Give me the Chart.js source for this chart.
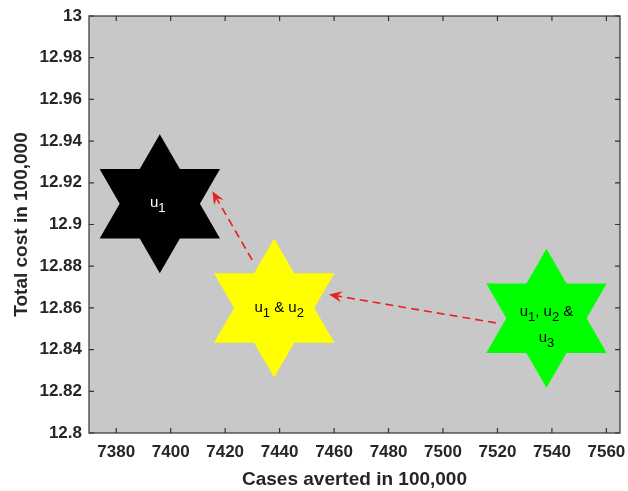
<!DOCTYPE html>
<html>
<head>
<meta charset="utf-8">
<script src="https://cdn.jsdelivr.net/npm/chart.js@4/dist/chart.umd.min.js"></script>
<style>
  html, body { margin: 0; padding: 0; background: #ffffff; }
  #wrap { width: 628px; height: 491px; }
</style>
</head>
<body>
<div id="wrap"><canvas id="chart" width="628" height="491"></canvas></div>
<script>
// Strategy combinations: cases averted vs. total cost (both in 100,000)
const casesAverted = [7396, 7438, 7538];
const totalCost = [12.91, 12.86, 12.855];
const strategyLabels = ['u_1', 'u_1 & u_2', 'u_1, u_2 &\nu_3'];
const starColors = ['#000000', '#ffff00', '#00ff00'];
const labelColors = ['#ffffff', '#000000', '#000000'];

// Dashed arrows pointing from each combination to the one before it
const arrowFromX = [7429.9, 7519.4];
const arrowFromY = [12.883, 12.8528];
const arrowToX = [7415.3, 7458.1];
const arrowToY = [12.916, 12.8664];

const xTickValues = [7380, 7400, 7420, 7440, 7460, 7480, 7500, 7520, 7540, 7560];
const yTickValues = [12.8, 12.82, 12.84, 12.86, 12.88, 12.9, 12.92, 12.94, 12.96, 12.98, 13];

const FONT = '"Liberation Sans", Arial, Helvetica, sans-serif';
const AXIS_COLOR = '#333333';
const TEXT_COLOR = '#262626';

// Each hexagram is an upward and a downward triangle at the same point
const starPoints = [];
casesAverted.forEach((x, i) => {
  starPoints.push({ x: x, y: totalCost[i] });
  starPoints.push({ x: x, y: totalCost[i] });
});

const plotBackground = {
  id: 'plotBackground',
  beforeDatasetsDraw(chart) {
    const { ctx, chartArea: a } = chart;
    ctx.save();
    ctx.fillStyle = '#c8c8c8';
    ctx.fillRect(a.left, a.top, a.right - a.left, a.bottom - a.top);
    ctx.restore();
  }
};

const axesBox = {
  id: 'axesBox',
  afterDatasetsDraw(chart) {
    const { ctx, chartArea: a, scales } = chart;
    const len = 5;
    ctx.save();
    ctx.strokeStyle = AXIS_COLOR;
    ctx.lineWidth = 1.2;
    ctx.beginPath();
    xTickValues.forEach(v => {
      const px = scales.x.getPixelForValue(v);
      ctx.moveTo(px, a.bottom); ctx.lineTo(px, a.bottom - len);
      ctx.moveTo(px, a.top); ctx.lineTo(px, a.top + len);
    });
    yTickValues.forEach(v => {
      const py = scales.y.getPixelForValue(v);
      ctx.moveTo(a.left, py); ctx.lineTo(a.left + len, py);
      ctx.moveTo(a.right, py); ctx.lineTo(a.right - len, py);
    });
    ctx.stroke();
    ctx.strokeRect(a.left, a.top, a.right - a.left, a.bottom - a.top);
    ctx.restore();
  }
};

// Text with "_x" subscripts, centred on each star
const starText = {
  id: 'starText',
  afterDatasetsDraw(chart, args, opts) {
    const { ctx, scales } = chart;
    const mainFont = '15px ' + FONT;
    const subFont = '13px ' + FONT;
    ctx.save();
    ctx.textBaseline = 'alphabetic';
    ctx.textAlign = 'left';
    strategyLabels.forEach((label, i) => {
      const cx = scales.x.getPixelForValue(casesAverted[i]) + opts.nudge[i].dx;
      const cy = scales.y.getPixelForValue(totalCost[i]) + opts.nudge[i].dy;
      ctx.fillStyle = labelColors[i];
      label.split('\n').forEach((line, li) => {
        const parts = [];
        let rest = line;
        while (rest.length) {
          const k = rest.indexOf('_');
          if (k < 0) { parts.push({ t: rest, sub: false }); break; }
          if (k > 0) parts.push({ t: rest.slice(0, k), sub: false });
          parts.push({ t: rest.charAt(k + 1), sub: true });
          rest = rest.slice(k + 2);
        }
        let w = 0;
        parts.forEach(p => { ctx.font = p.sub ? subFont : mainFont; p.w = ctx.measureText(p.t).width; w += p.w; });
        let x = cx - w / 2;
        const base = cy + li * opts.lineGap;
        parts.forEach(p => {
          ctx.font = p.sub ? subFont : mainFont;
          ctx.fillText(p.t, x, base + (p.sub ? 5 : 0));
          x += p.w;
        });
      });
    });
    ctx.restore();
  }
};

const dashedArrows = {
  id: 'dashedArrows',
  afterDatasetsDraw(chart) {
    const { ctx, scales } = chart;
    const headLen = 13, headWidth = 11;
    ctx.save();
    ctx.strokeStyle = '#e8221e';
    ctx.fillStyle = '#e8221e';
    arrowFromX.forEach((_, i) => {
      const x0 = scales.x.getPixelForValue(arrowFromX[i]);
      const y0 = scales.y.getPixelForValue(arrowFromY[i]);
      const x1 = scales.x.getPixelForValue(arrowToX[i]);
      const y1 = scales.y.getPixelForValue(arrowToY[i]);
      const d = Math.hypot(x1 - x0, y1 - y0);
      const ux = (x1 - x0) / d, uy = (y1 - y0) / d;
      const nx = -uy, ny = ux;
      const notchX = x1 - ux * headLen * 0.65, notchY = y1 - uy * headLen * 0.65;
      ctx.lineWidth = 1.6;
      ctx.setLineDash([8, 5]);
      ctx.beginPath();
      ctx.moveTo(x0, y0);
      ctx.lineTo(notchX, notchY);
      ctx.stroke();
      ctx.setLineDash([]);
      ctx.beginPath();
      ctx.moveTo(x1, y1);
      ctx.lineTo(x1 - ux * headLen + nx * headWidth / 2, y1 - uy * headLen + ny * headWidth / 2);
      ctx.lineTo(notchX, notchY);
      ctx.lineTo(x1 - ux * headLen - nx * headWidth / 2, y1 - uy * headLen - ny * headWidth / 2);
      ctx.closePath();
      ctx.fill();
    });
    ctx.restore();
  }
};

new Chart(document.getElementById('chart'), {
  type: 'scatter',
  data: {
    datasets: [{
      data: starPoints,
      pointStyle: 'triangle',
      pointRadius: 69.5,
      pointHoverRadius: 69.5,
      pointRotation: c => (c.dataIndex % 2 === 0 ? 0 : 180),
      backgroundColor: c => starColors[Math.floor(c.dataIndex / 2)],
      borderWidth: 0,
      clip: false
    }]
  },
  options: {
    responsive: false,
    animation: false,
    devicePixelRatio: 1,
    events: [],
    layout: { autoPadding: false, padding: { top: 16, right: 8, left: 0, bottom: 0 } },
    plugins: {
      legend: { display: false },
      tooltip: { enabled: false },
      starText: {
        nudge: [{ dx: -2, dy: 3 }, { dx: 5, dy: 4.5 }, { dx: 0, dy: -2.5 }],
        lineGap: 26.5
      }
    },
    scales: {
      x: {
        type: 'linear',
        min: 7370,
        max: 7565,
        afterBuildTicks: s => { s.ticks = xTickValues.map(v => ({ value: v })); },
        afterFit: s => { s.height = 58; s.paddingLeft = 0; s.paddingRight = 0; },
        grid: { display: false, drawTicks: false },
        border: { display: false },
        ticks: {
          autoSkip: false,
          maxRotation: 0,
          padding: 9,
          color: TEXT_COLOR,
          font: { family: FONT, size: 17, weight: 'bold' },
          callback: v => String(v)
        },
        title: {
          display: true,
          text: 'Cases averted in 100,000',
          color: TEXT_COLOR,
          font: { family: FONT, size: 19, weight: 'bold' },
          padding: { top: 0, bottom: 0 }
        }
      },
      y: {
        type: 'linear',
        min: 12.8,
        max: 13,
        afterBuildTicks: s => { s.ticks = yTickValues.map(v => ({ value: v })); },
        afterFit: s => { s.width = 89; s.paddingTop = 0; s.paddingBottom = 0; },
        grid: { display: false, drawTicks: false },
        border: { display: false },
        ticks: {
          autoSkip: false,
          padding: 7,
          color: TEXT_COLOR,
          font: { family: FONT, size: 17, weight: 'bold' },
          callback: v => String(Math.round(v * 100) / 100)
        },
        title: {
          display: true,
          text: 'Total cost in 100,000',
          color: TEXT_COLOR,
          font: { family: FONT, size: 19, weight: 'bold' },
          padding: { top: 10.5, bottom: 0 }
        }
      }
    }
  },
  plugins: [plotBackground, starText, dashedArrows, axesBox]
});
</script>
</body>
</html>
